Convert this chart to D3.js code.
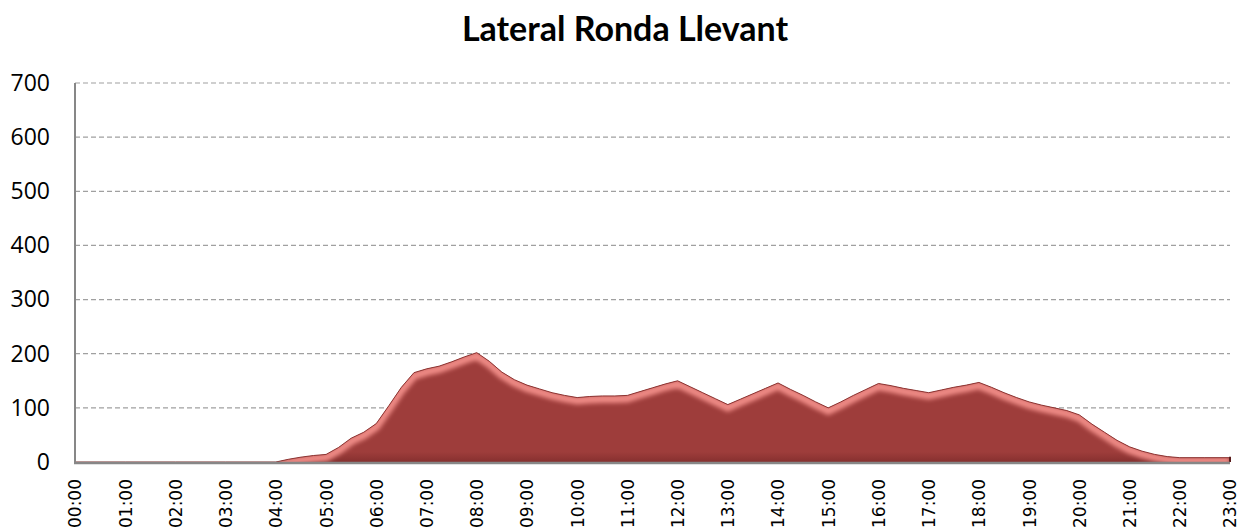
<!DOCTYPE html>
<html>
<head>
<meta charset="utf-8">
<script src="https://cdn.jsdelivr.net/npm/d3@7"></script>
<style>
  body { margin: 0; background: #fff; }
  .title { font-family: "Lato", "Open Sans", sans-serif; font-weight: bold; font-size: 34px; }
  .y.axis text { font-family: "Open Sans", sans-serif; font-size: 23px; fill: #000; }
  .x.axis text { font-family: "DejaVu Sans", sans-serif; font-size: 17px; fill: #000; }
  .grid line { stroke: #a0a0a0; stroke-width: 1.2; stroke-dasharray: 5,3; }
</style>
</head>
<body>
<svg class="chart"></svg>
<script>
var margin = {top: 83, right: 11, bottom: 69, left: 75},
    width = 1241 - margin.left - margin.right,
    height = 531 - margin.top - margin.bottom;

// time of day in hours (quarter-hour steps) and counts
var hours = [0, 1, 2, 3, 4, 4.25, 4.5, 4.75, 5, 5.25, 5.5, 5.75, 6, 6.25, 6.5, 6.75,
  7, 7.25, 7.5, 7.75, 8, 8.25, 8.5, 8.75, 9, 9.25, 9.5, 9.75, 10, 10.25, 10.5, 10.75,
  11, 11.25, 11.5, 11.75, 12, 12.25, 12.5, 12.75, 13, 13.25, 13.5, 13.75, 14, 14.25, 14.5, 14.75,
  15, 15.25, 15.5, 15.75, 16, 16.25, 16.5, 16.75, 17, 17.25, 17.5, 17.75, 18, 18.25, 18.5, 18.75,
  19, 19.25, 19.5, 19.75, 20, 20.25, 20.5, 20.75, 21, 21.25, 21.5, 21.75, 22, 22.5, 23];
var values = [0, 0, 0, 0, 0, 5, 9, 12, 14, 27, 44, 55, 71, 104, 138, 165,
  172, 177, 185, 194, 202, 186, 166, 152, 142, 135, 128, 123, 119, 121, 122, 122,
  123, 130, 137, 144, 150, 139, 128, 117, 106, 116, 126, 136, 146, 134, 123, 111,
  100, 111, 123, 134, 145, 141, 136, 132, 128, 133, 138, 142, 147, 138, 128, 119,
  111, 105, 100, 95, 87, 70, 55, 40, 28, 20, 14, 10, 8, 8, 8];
var hourLabels = ["00:00", "01:00", "02:00", "03:00", "04:00", "05:00", "06:00", "07:00",
  "08:00", "09:00", "10:00", "11:00", "12:00", "13:00", "14:00", "15:00", "16:00", "17:00",
  "18:00", "19:00", "20:00", "21:00", "22:00", "23:00"];
var yTicks = [0, 100, 200, 300, 400, 500, 600, 700];

var data = hours.map(function(h, i) { return {h: h, v: values[i]}; });

var xScale = d3.scaleLinear().domain([0, 23]).range([0, width]);
var yScale = d3.scaleLinear().domain([0, 700]).range([height, 0]);

var chart = d3.select(".chart")
    .attr("width", 1241)
    .attr("height", 531);

chart.append("text")
    .attr("class", "title")
    .attr("x", 625)
    .attr("y", 41)
    .style("text-anchor", "middle")
    .text("Lateral Ronda Llevant");

var g = chart.append("g")
    .attr("transform", "translate(" + margin.left + "," + margin.top + ")");

// dashed grid
g.append("g")
    .attr("class", "grid")
  .selectAll("line")
    .data(yTicks.slice(1))
  .enter().append("line")
    .attr("x1", 0)
    .attr("x2", width)
    .attr("y1", function(d) { return yScale(d); })
    .attr("y2", function(d) { return yScale(d); });

var defs = chart.append("defs");
var grad = defs.append("linearGradient")
    .attr("id", "fillGrad")
    .attr("gradientUnits", "userSpaceOnUse")
    .attr("x1", 0).attr("x2", 0)
    .attr("y1", height - 10).attr("y2", height);
grad.append("stop").attr("offset", "0").attr("stop-color", "#9e3d3b");
grad.append("stop").attr("offset", "1").attr("stop-color", "#86302f");

defs.append("filter")
    .attr("id", "soft")
    .attr("x", "-5%").attr("y", "-50%").attr("width", "110%").attr("height", "200%")
  .append("feGaussianBlur")
    .attr("stdDeviation", 2);

var area = d3.area()
    .x(function(d) { return xScale(d.h); })
    .y0(height)
    .y1(function(d) { return yScale(d.v); });

var line = d3.line()
    .x(function(d) { return xScale(d.h); })
    .y(function(d) { return yScale(d.v); });

defs.append("clipPath")
    .attr("id", "areaClip")
  .append("path")
    .attr("d", area(data));

g.append("path")
    .attr("d", area(data))
    .style("fill", "url(#fillGrad)");

// light band along the top edge
g.append("g")
    .attr("clip-path", "url(#areaClip)")
  .append("path")
    .attr("d", line(data))
    .attr("transform", "translate(0,3)")
    .attr("filter", "url(#soft)")
    .style("fill", "none")
    .style("stroke", "#ee8a85")
    .style("stroke-width", 8);

g.append("path")
    .attr("d", line(data))
    .style("fill", "none")
    .style("stroke", "#8d3533")
    .style("stroke-width", 1);

g.append("line")
    .attr("x1", width).attr("x2", width)
    .attr("y1", yScale(values[values.length - 1]) - 1).attr("y2", height)
    .style("stroke", "#5a1c1c")
    .style("stroke-width", 2);

// axes
var yAxis = d3.axisLeft(yScale).tickValues(yTicks).tickSize(0).tickPadding(25);
g.append("g")
    .attr("class", "y axis")
    .call(yAxis)
    .call(function(s) { s.select(".domain").remove(); });

var xAxis = d3.axisBottom(xScale)
    .tickValues(d3.range(0, 24))
    .tickFormat(function(d) { return hourLabels[d]; })
    .tickSize(0);
var xg = g.append("g")
    .attr("class", "x axis")
    .attr("transform", "translate(0," + height + ")")
    .call(xAxis);
xg.select(".domain").remove();
xg.selectAll("text")
    .attr("transform", "rotate(-90)")
    .attr("x", -17)
    .attr("y", 0)
    .attr("dy", ".35em")
    .style("text-anchor", "end");

g.append("line")
    .attr("x1", 0).attr("x2", 0)
    .attr("y1", 0).attr("y2", height)
    .style("stroke", "#878787")
    .style("stroke-width", 2);

g.append("line")
    .attr("x1", -1).attr("x2", width)
    .attr("y1", height + 1).attr("y2", height + 1)
    .style("stroke", "#878787")
    .style("stroke-width", 2.5);
</script>
</body>
</html>
